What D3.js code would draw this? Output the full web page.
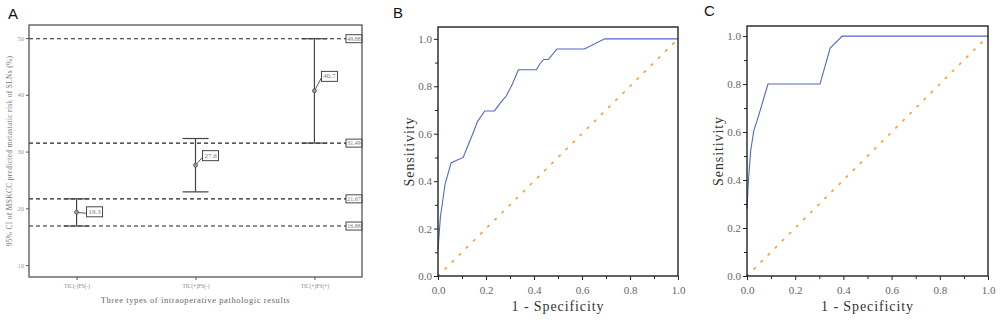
<!DOCTYPE html>
<html lang="en">
<head>
<meta charset="UTF-8">
<title>MSKCC CI and ROC curves</title>
<script src="https://cdn.jsdelivr.net/npm/d3@7"></script>
<style>
  body { margin: 0; background: #fff; }
  svg { display: block; }
  .panel-tag { font-family: "Liberation Sans", Arial, sans-serif; font-size: 15px; fill: #111; }
</style>
</head>
<body>
<div id="chart"></div>
<script>
  const SERIF = "'Liberation Serif', 'DejaVu Serif', serif";

  // ---- panel A data ----
  const groups = ["TIC(-)FS(-)", "TIC(+)FS(-)", "TIC(+)FS(+)"];
  const means = [19.3, 27.6, 40.7];
  const lower = [16.88, 22.9, 31.49];
  const upper = [21.67, 32.3, 49.88];
  const refLines = [49.88, 31.49, 21.67, 16.88];
  const yTicksA = [10, 20, 30, 40, 50];

  // ---- panel B ROC ----
  const fprB = [0, 0.01, 0.03, 0.055, 0.105, 0.125, 0.145, 0.165, 0.195, 0.235, 0.26, 0.285, 0.31, 0.335, 0.41, 0.425, 0.44, 0.46, 0.495, 0.61, 0.695, 1.0];
  const tprB = [0.11, 0.25, 0.39, 0.478, 0.50, 0.55, 0.60, 0.652, 0.696, 0.696, 0.73, 0.76, 0.81, 0.87, 0.87, 0.895, 0.913, 0.913, 0.957, 0.957, 1.0, 1.0];

  // ---- panel C ROC ----
  const fprC = [0, 0.006, 0.015, 0.028, 0.047, 0.087, 0.303, 0.345, 0.395, 1.0];
  const tprC = [0.28, 0.40, 0.52, 0.605, 0.664, 0.80, 0.80, 0.95, 1.0, 1.0];

  const rocTicks = [0, 0.2, 0.4, 0.6, 0.8, 1.0];

  const svg = d3.select("#chart").append("svg")
    .attr("width", 1000)
    .attr("height", 323);

  // ================= Panel A =================
  const A = { left: 29, right: 362, top: 25, bottom: 277 };
  const xA = d3.scalePoint().domain(groups).range([A.left, A.right]).padding(0.4);
  const yA = d3.scaleLinear().domain([7.9, 52.3]).range([A.bottom, A.top]);

  svg.append("text").attr("class", "panel-tag").attr("x", 8).attr("y", 19).text("A");

  const gA = svg.append("g").attr("font-family", SERIF);

  // dashed reference lines
  gA.selectAll(".ref").data(refLines).enter().append("line")
    .attr("x1", A.left).attr("x2", A.right - 16)
    .attr("y1", d => yA(d)).attr("y2", d => yA(d))
    .attr("stroke", "#222").attr("stroke-width", 1.1)
    .attr("stroke-dasharray", "4,3");

  // value boxes on the right
  const refLab = gA.selectAll(".reflab").data(refLines).enter().append("g")
    .attr("transform", d => `translate(${A.right - 16},${yA(d)})`);
  refLab.append("rect").attr("x", 0).attr("y", -4).attr("width", 16).attr("height", 8)
    .attr("fill", "#fff").attr("stroke", "#333").attr("stroke-width", 0.9);
  refLab.append("text").attr("x", 8).attr("y", 2.2)
    .attr("text-anchor", "middle").attr("font-size", 6).attr("fill", "#777")
    .text(d => d.toFixed(2));

  // error bars
  const capW = 13;
  groups.forEach((g, i) => {
    const x = xA(g);
    gA.append("line").attr("x1", x).attr("x2", x)
      .attr("y1", yA(lower[i])).attr("y2", yA(upper[i]))
      .attr("stroke", "#444").attr("stroke-width", 1.2);
    [lower[i], upper[i]].forEach(v => {
      gA.append("line").attr("x1", x - capW).attr("x2", x + capW)
        .attr("y1", yA(v)).attr("y2", yA(v))
        .attr("stroke", "#444").attr("stroke-width", 1.2);
    });
  });

  // mean labels with leader lines
  const labelOffset = [[10, -1], [7, -10], [7, -15]];
  groups.forEach((g, i) => {
    const x = xA(g), y = yA(means[i]);
    const bx = x + labelOffset[i][0], by = y + labelOffset[i][1];
    gA.append("line").attr("x1", x).attr("y1", y).attr("x2", bx).attr("y2", by + 2)
      .attr("stroke", "#444").attr("stroke-width", 0.9);
    gA.append("rect").attr("x", bx).attr("y", by - 4.5).attr("width", 16).attr("height", 10)
      .attr("fill", "#fff").attr("stroke", "#333").attr("stroke-width", 0.9);
    gA.append("text").attr("x", bx + 8).attr("y", by + 2.5)
      .attr("text-anchor", "middle").attr("font-size", 7).attr("fill", "#777")
      .text(means[i]);
    gA.append("circle").attr("cx", x).attr("cy", y).attr("r", 2)
      .attr("fill", "#999").attr("stroke", "#555").attr("stroke-width", 0.8);
  });

  // frame
  gA.append("rect").attr("x", A.left).attr("y", A.top)
    .attr("width", A.right - A.left).attr("height", A.bottom - A.top)
    .attr("fill", "none").attr("stroke", "#555").attr("stroke-width", 1.3);

  // axes
  const yAxisA = gA.append("g").attr("transform", `translate(${A.left},0)`)
    .call(d3.axisLeft(yA).tickValues(yTicksA).tickSize(3).tickPadding(2))
    .attr("font-family", SERIF).attr("font-size", 6.5);
  yAxisA.select(".domain").remove();
  yAxisA.selectAll("line").attr("stroke", "#555");
  yAxisA.selectAll("text").attr("fill", "#999");

  const xAxisA = gA.append("g").attr("transform", `translate(0,${A.bottom})`)
    .call(d3.axisBottom(xA).tickSize(3).tickPadding(4))
    .attr("font-family", SERIF).attr("font-size", 5.5);
  xAxisA.select(".domain").remove();
  xAxisA.selectAll("line").attr("stroke", "#555");
  xAxisA.selectAll("text").attr("fill", "#888");

  svg.append("text").attr("font-family", SERIF)
    .attr("x", (A.left + A.right) / 2).attr("y", 303)
    .attr("text-anchor", "middle").attr("font-size", 8.5).attr("fill", "#666")
    .attr("letter-spacing", 0.6)
    .text("Three types of intraoperative pathologic results");

  svg.append("text").attr("font-family", SERIF)
    .attr("transform", `translate(12,${(A.top + A.bottom) / 2}) rotate(-90)`)
    .attr("text-anchor", "middle").attr("font-size", 7.5).attr("fill", "#777")
    .attr("letter-spacing", 0.3)
    .text("95% CI of MSKCC predicted metastatic risk of SLNs (%)");

  // ================= ROC panels =================
  function rocPanel(box, tag, tagPos, fpr, tpr, yTop) {
    const x = d3.scaleLinear().domain([0, 1]).range([box.left, box.right]);
    const y = d3.scaleLinear().domain([0, yTop]).range([box.bottom, box.top]);
    const g = svg.append("g");

    svg.append("text").attr("class", "panel-tag")
      .attr("x", tagPos[0]).attr("y", tagPos[1]).text(tag);

    // reference diagonal
    g.append("line").attr("x1", x(0)).attr("y1", y(0)).attr("x2", x(1)).attr("y2", y(1))
      .attr("stroke", "#f0a43c").attr("stroke-width", 1.7)
      .attr("stroke-dasharray", "1.6,8.4").attr("stroke-linecap", "round");

    // curve
    const pts = fpr.map((f, i) => [f, tpr[i]]);
    g.append("path").datum(pts)
      .attr("d", d3.line().x(d => x(d[0])).y(d => y(d[1])))
      .attr("fill", "none").attr("stroke", "#5466c4").attr("stroke-width", 1.1);

    // frame
    g.append("rect").attr("x", box.left).attr("y", box.top)
      .attr("width", box.right - box.left).attr("height", box.bottom - box.top)
      .attr("fill", "none").attr("stroke", "#222").attr("stroke-width", 1.4);

    // major and minor ticks
    const minor = d3.range(0.1, 1.0, 0.2);
    const yAx = g.append("g").attr("transform", `translate(${box.left},0)`)
      .call(d3.axisLeft(y).tickValues(rocTicks).tickFormat(d3.format(".1f")).tickSize(4).tickPadding(2))
      .attr("font-family", SERIF).attr("font-size", 11);
    yAx.select(".domain").remove();
    yAx.selectAll("line").attr("stroke", "#222");
    yAx.selectAll("text").attr("fill", "#666");
    const yMin = g.append("g").attr("transform", `translate(${box.left},0)`)
      .call(d3.axisLeft(y).tickValues(minor).tickFormat("").tickSize(3));
    yMin.select(".domain").remove();
    yMin.selectAll("line").attr("stroke", "#222");

    const xAx = g.append("g").attr("transform", `translate(0,${box.bottom})`)
      .call(d3.axisBottom(x).tickValues(rocTicks).tickFormat(d3.format(".1f")).tickSize(4).tickPadding(6))
      .attr("font-family", SERIF).attr("font-size", 11);
    xAx.select(".domain").remove();
    xAx.selectAll("line").attr("stroke", "#222");
    xAx.selectAll("text").attr("fill", "#666");
    const xMin = g.append("g").attr("transform", `translate(0,${box.bottom})`)
      .call(d3.axisBottom(x).tickValues(minor).tickFormat("").tickSize(3));
    xMin.select(".domain").remove();
    xMin.selectAll("line").attr("stroke", "#222");

    svg.append("text").attr("font-family", SERIF)
      .attr("x", (box.left + box.right) / 2).attr("y", 311)
      .attr("text-anchor", "middle").attr("font-size", 14).attr("fill", "#333")
      .attr("letter-spacing", 0.9)
      .text("1 - Specificity");

    svg.append("text").attr("font-family", SERIF)
      .attr("transform", `translate(${box.left - 24},${(box.top + box.bottom) / 2}) rotate(-90)`)
      .attr("text-anchor", "middle").attr("font-size", 14).attr("fill", "#333")
      .attr("letter-spacing", 0.9)
      .text("Sensitivity");
  }

  rocPanel({ left: 438, right: 678, top: 27, bottom: 276 }, "B", [393, 18], fprB, tprB, 1.05);
  rocPanel({ left: 747, right: 988, top: 26, bottom: 276 }, "C", [704, 16], fprC, tprC, 1.042);
</script>
</body>
</html>
